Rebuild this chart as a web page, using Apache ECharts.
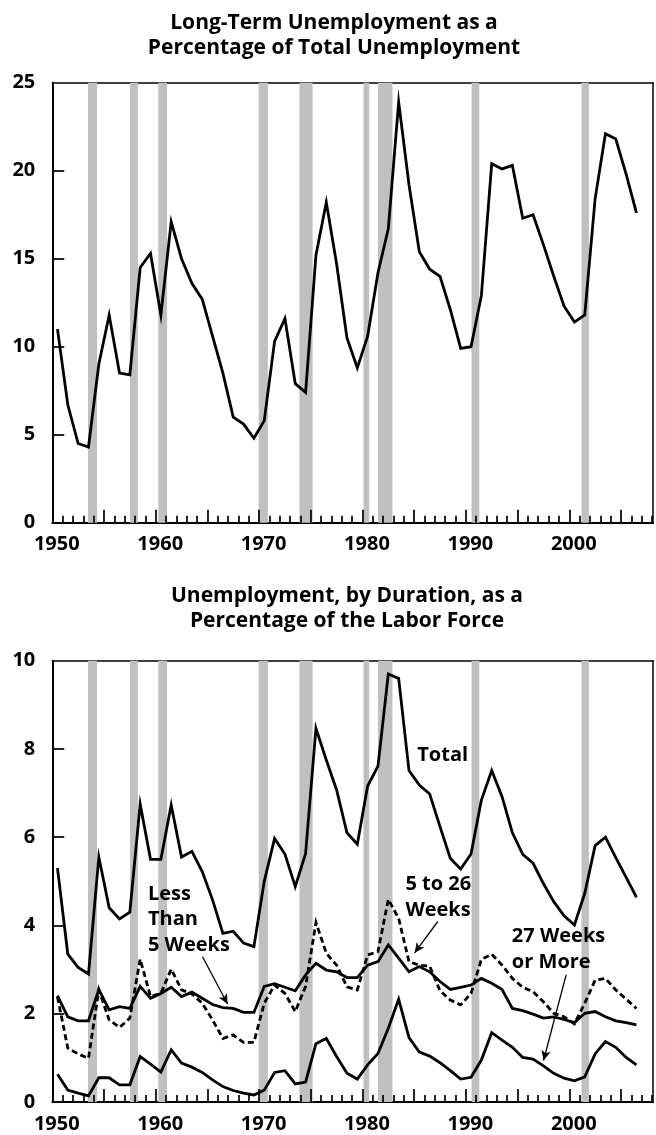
<!DOCTYPE html>
<html>
<head>
<meta charset="utf-8">
<script src="https://cdn.jsdelivr.net/npm/echarts@6/dist/echarts.min.js"></script>
<style>
html,body{margin:0;padding:0;background:#fff;}
#c{width:656px;height:1135px;}
</style>
</head>
<body>
<div id="c"></div>
<script>
// ---------- DATA ----------
var years = [1950,1951,1952,1953,1954,1955,1956,1957,1958,1959,
             1960,1961,1962,1963,1964,1965,1966,1967,1968,1969,
             1970,1971,1972,1973,1974,1975,1976,1977,1978,1979,
             1980,1981,1982,1983,1984,1985,1986,1987,1988,1989,
             1990,1991,1992,1993,1994,1995,1996,1997,1998,1999,
             2000,2001,2002,2003,2004,2005,2006];

// Top panel: long-term (27+ weeks) unemployment as % of total unemployment
var longTermShare = [11.0,6.7,4.5,4.3,9.0,11.8,8.5,8.4,14.5,15.3,
                     11.8,17.1,15.0,13.6,12.7,10.6,8.5,6.0,5.6,4.8,
                     5.8,10.3,11.6,7.9,7.4,15.2,18.2,14.7,10.5,8.8,
                     10.6,14.2,16.7,23.9,19.2,15.4,14.4,14.0,12.1,9.9,
                     10.0,12.9,20.4,20.1,20.3,17.3,17.5,15.8,14.0,12.3,
                     11.4,11.8,18.4,22.1,21.8,19.8,17.6];

// Bottom panel: unemployment by duration as % of the labor force
var totalRate = [5.3,3.35,3.05,2.9,5.55,4.4,4.15,4.3,6.75,5.5,
                 5.5,6.73,5.55,5.68,5.22,4.58,3.82,3.87,3.6,3.52,
                 5.0,5.97,5.62,4.88,5.63,8.47,7.75,7.07,6.1,5.84,
                 7.16,7.61,9.7,9.6,7.51,7.18,6.98,6.24,5.52,5.28,
                 5.62,6.84,7.51,6.92,6.1,5.61,5.41,4.95,4.54,4.22,
                 4.01,4.73,5.81,6.0,5.54,5.09,4.64];
var lessThan5 = [2.41,1.93,1.84,1.84,2.55,2.09,2.16,2.12,2.62,2.35,
                 2.46,2.60,2.39,2.49,2.35,2.21,2.14,2.12,2.03,2.03,
                 2.62,2.68,2.60,2.52,2.88,3.14,2.99,2.95,2.82,2.82,
                 3.10,3.18,3.56,3.26,2.95,3.07,2.95,2.73,2.55,2.60,
                 2.65,2.80,2.69,2.55,2.12,2.07,1.99,1.90,1.93,1.87,
                 1.80,2.01,2.05,1.93,1.84,1.80,1.75];
var fiveTo26 = [2.38,1.22,1.09,0.99,2.54,1.86,1.69,1.90,3.24,2.39,
                2.46,3.01,2.54,2.45,2.24,1.86,1.44,1.52,1.35,1.35,
                2.24,2.65,2.46,2.05,2.62,4.07,3.37,3.10,2.61,2.54,
                3.33,3.41,4.59,4.16,3.18,3.10,3.08,2.52,2.31,2.20,
                2.46,3.23,3.35,3.10,2.80,2.60,2.50,2.27,2.01,1.93,
                1.77,2.24,2.76,2.80,2.54,2.33,2.12];
var weeks27Plus = [0.63,0.27,0.20,0.14,0.55,0.55,0.39,0.39,1.03,0.86,
                   0.68,1.18,0.88,0.79,0.67,0.50,0.35,0.26,0.20,0.16,
                   0.27,0.67,0.71,0.41,0.45,1.32,1.44,1.03,0.65,0.52,
                   0.84,1.10,1.67,2.33,1.46,1.13,1.04,0.89,0.71,0.52,
                   0.56,0.95,1.57,1.40,1.24,1.01,0.97,0.82,0.65,0.54,
                   0.48,0.57,1.09,1.37,1.24,1.01,0.84];

// Recession periods (start, end) in fractional years
var recessionStart = [1953.45,1957.52,1960.25,1969.96,1973.9,1980.1,1981.5,1990.55,2001.18];
var recessionEnd   = [1954.33,1958.28,1961.1,1970.85,1975.18,1980.65,1982.9,1991.3,2001.9];

// Axis settings
var xMin = 1950, xMax = 2008.1, xLastTick = 2008;
var topY = {min:0, max:25, step:5};
var botY = {min:0, max:10, step:2};

// Titles and annotations
var topTitle = 'Long-Term Unemployment as a\nPercentage of Total Unemployment';
var botTitle = 'Unemployment, by Duration, as a\nPercentage of the Labor Force';
var annoText  = ['Total', 'Less\nThan\n5 Weeks', '5 to 26\nWeeks', '27 Weeks\nor More'];
var annoAt    = [[1985.3, 8.15], [1959.25, 5.0], [1984.15, 5.22], [1994.45, 4.04]];
var arrowFrom = [[1964.53, 3.29], [1987.29, 4.09], [1999.70, 2.88]];
var arrowTo   = [[1966.95, 2.22], [1985.04, 3.38], [1997.51, 0.94]];

// ---------- BUILD ----------
var FONT = 'Open Sans';
function pts(vals){ return years.map(function(y,i){ return [y + 0.5, vals[i]]; }); }
var recAreas = recessionStart.map(function(s,i){ return [{xAxis:s},{xAxis:recessionEnd[i]}]; });

var grids = [
  {left:52.3, top:82.7, width:601.5, height:440},
  {left:52.3, top:660.7, width:601.5, height:441.3}
];

var xAxes = [], yAxes = [];
[0,1].forEach(function(g){
  xAxes.push({type:'value', gridIndex:g, min:xMin, max:xMax, interval:5, position:'bottom',
    axisLine:{show:true, onZero:false, lineStyle:{color:'#000', width:2}},
    axisTick:{show:false},
    axisLabel:{show:true, margin:12, padding:[0,0,0,9], fontFamily:FONT, fontWeight:'bold', fontSize:20, color:'#000',
      formatter:function(v){ return (v % 10 === 0) ? String(v) : ''; }},
    splitLine:{show:false}});
  xAxes.push({type:'value', gridIndex:g, min:xMin, max:xMax, position:'top',
    axisLine:{show:true, onZero:false, lineStyle:{color:'#000', width:1.5}},
    axisTick:{show:false}, axisLabel:{show:false}, splitLine:{show:false}});
  var yy = g === 0 ? topY : botY;
  yAxes.push({type:'value', gridIndex:g, min:yy.min, max:yy.max, interval:yy.step, position:'left',
    axisLine:{show:true, onZero:false, lineStyle:{color:'#000', width:2}},
    axisTick:{show:false},
    axisLabel:{show:true, margin:17, fontFamily:FONT, fontWeight:'bold', fontSize:20, color:'#000'},
    splitLine:{show:false}});
  yAxes.push({type:'value', gridIndex:g, min:yy.min, max:yy.max, position:'right',
    axisLine:{show:true, onZero:false, lineStyle:{color:'#000', width:1.5}},
    axisTick:{show:false}, axisLabel:{show:false}, splitLine:{show:false}});
});

function lineSeries(name, vals, g, dashed, extra){
  var s = {name:name, type:'line', xAxisIndex:g*2, yAxisIndex:g*2, data:pts(vals),
    showSymbol:false, symbol:'none', z:4, silent:true, animation:false,
    lineStyle:{color:'#000', width:2.8, type: dashed ? [6,3.5] : 'solid', join:'miter'}};
  if (extra) for (var k in extra) s[k] = extra[k];
  return s;
}
function bandSeries(g){
  return {type:'line', xAxisIndex:g*2, yAxisIndex:g*2, data:[], z:1, silent:true, animation:false,
    markArea:{silent:true, itemStyle:{color:'#c0c0c0', opacity:1}, data:recAreas}};
}

var series = [
  bandSeries(0),
  bandSeries(1),
  lineSeries('Long-term share', longTermShare, 0, false),
  lineSeries('Total', totalRate, 1, false),
  lineSeries('Less than 5 weeks', lessThan5, 1, false),
  lineSeries('5 to 26 weeks', fiveTo26, 1, true),
  lineSeries('27 weeks or more', weeks27Plus, 1, false, {
    markLine:{silent:true, animation:false, symbol:['none','arrow'], symbolSize:[7,10],
      label:{show:false}, lineStyle:{color:'#000', width:1.3, type:'solid'},
      data: arrowFrom.map(function(f,i){ return [{coord:f},{coord:arrowTo[i]}]; })}
  })
];

var chart = echarts.init(document.getElementById('c'), null, {renderer:'canvas'});
chart.setOption({
  animation:false,
  backgroundColor:'#fff',
  title:[
    {text:topTitle, left:329, top:6, textAlign:'center',
      textStyle:{fontFamily:FONT, fontWeight:'bold', fontSize:21, lineHeight:25, color:'#000'}},
    {text:botTitle, left:342, top:579, textAlign:'center',
      textStyle:{fontFamily:FONT, fontWeight:'bold', fontSize:21, lineHeight:25, color:'#000'}}
  ],
  grid:grids,
  xAxis:xAxes,
  yAxis:yAxes,
  series:series
});

// ---- inside tick marks, drawn as markLines in data space (lengths converted from px) ----
[0,1].forEach(function(g){
  var yy = g === 0 ? topY : botY;
  var f = {xAxisIndex:g*2, yAxisIndex:g*2};
  var a = chart.convertToPixel(f, [xMin, yy.min]);
  var b = chart.convertToPixel(f, [xMin + 1, yy.min + 1]);
  var pxPerX = Math.abs(b[0] - a[0]), pxPerY = Math.abs(a[1] - b[1]);
  var lines = [];
  for (var v = xMin; v <= xLastTick; v++) {
    var L = ((v % 5 === 0) ? 13 : 7) / pxPerY;
    lines.push([{coord:[v, yy.min]}, {coord:[v, yy.min + L]}]);
  }
  for (var t = yy.min + yy.step; t < yy.max; t += yy.step) {
    lines.push([{coord:[xMin, t]}, {coord:[xMin + 12 / pxPerX, t]}]);
  }
  series.push({type:'line', xAxisIndex:g*2, yAxisIndex:g*2, data:[], z:6, silent:true, animation:false,
    markLine:{silent:true, animation:false, symbol:['none','none'], label:{show:false},
      lineStyle:{color:'#000', width:1.7, type:'solid'}, data:lines}});
});
chart.setOption({series:series});

// ---- text annotations at data coordinates of the lower panel ----
var gfx = annoText.map(function(t,i){
  var p = chart.convertToPixel({xAxisIndex:2, yAxisIndex:2}, annoAt[i]);
  return {type:'text', x:p[0], y:p[1], z:100, silent:true,
    style:{text:t, fill:'#000', font:'bold 20px "' + FONT + '"', lineHeight:25.5, align:'left', verticalAlign:'top'}};
});
chart.setOption({graphic:{elements:gfx}});
</script>
</body>
</html>
